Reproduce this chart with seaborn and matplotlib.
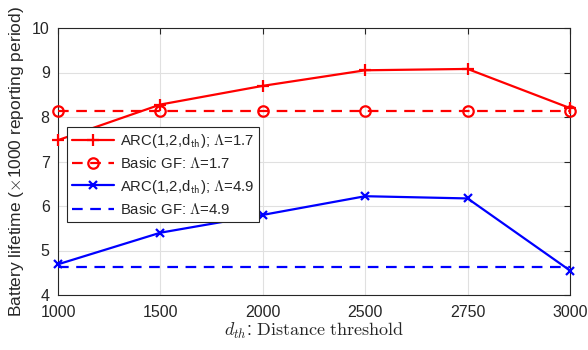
import matplotlib
matplotlib.use("Agg")
import matplotlib.pyplot as plt
import seaborn as sns
import pandas as pd
import numpy as np

categories = ["1000", "1500", "2000", "2500", "2750", "3000"]
arc_17 = [7.48, 8.28, 8.70, 9.05, 9.08, 8.20]
gf_17 = [8.13, 8.13, 8.13, 8.13, 8.13, 8.13]
arc_49 = [4.69, 5.40, 5.80, 6.22, 6.17, 4.55]
gf_49 = [4.62, 4.62, 4.62, 4.62, 4.62, 4.62]
labels = [r"ARC(1,2,d$_{\mathsf{th}}$); $\Lambda$=1.7",
          r"Basic GF: $\Lambda$=1.7",
          r"ARC(1,2,d$_{\mathsf{th}}$); $\Lambda$=4.9",
          r"Basic GF: $\Lambda$=4.9"]

sns.set_theme(style="whitegrid")
plt.rcParams["font.family"] = ["Liberation Sans", "DejaVu Sans"]
plt.rcParams["mathtext.fontset"] = "cm"

fig = plt.figure(figsize=(5.88, 3.5), dpi=100)
ax = fig.add_axes([58/588, 1-295/350, 512/588, 267/350])

pos = np.arange(len(categories))
series = [arc_17, gf_17, arc_49, gf_49]
colors = [(1, 0, 0), (1, 0, 0), (0, 0, 1), (0, 0, 1)]
styles = [
    dict(marker="+", linestyle="-", markersize=9),
    dict(marker="o", linestyle=(0, (4.8, 3.4)), markersize=7.5, markerfacecolor="none"),
    dict(marker="x", linestyle="-", markersize=6),
    dict(marker="None", linestyle=(0, (4.8, 3.4))),
]
for vals, lab, col in zip(series, labels, colors):
    df = pd.DataFrame({"x": pos, "y": vals})
    sns.lineplot(data=df, x="x", y="y", ax=ax, label=lab, color=col, linewidth=1.6)

for line, st, col in zip(ax.lines, styles, colors):
    line.set_marker(st["marker"])
    line.set_linestyle(st["linestyle"])
    if "markersize" in st:
        line.set_markersize(st["markersize"])
    line.set_markeredgewidth(1.6)
    line.set_markeredgecolor(col)
    line.set_markerfacecolor(st.get("markerfacecolor", col))
    line.set_clip_on(False)
    line.set_zorder(3)

ax.set_xlim(0, len(categories) - 1)
ax.set_ylim(4, 10)
ax.set_xticks(pos)
ax.set_xticklabels(categories)
ax.set_yticks(range(4, 11))
ax.tick_params(axis="both", labelsize=11.5, colors="#262626", direction="in",
               top=True, right=True, length=4, width=0.8)
ax.tick_params(axis="x", pad=7)
ax.tick_params(axis="y", pad=6)
ax.grid(True, color="#e0e0e0", linewidth=0.8)
for s in ax.spines.values():
    s.set_visible(True)
    s.set_color("#262626")
    s.set_linewidth(0.8)
ax.set_xlabel(r"$d_{th}$: $\mathrm{Distance\ threshold}$", fontsize=13, color="#262626", labelpad=1)
ax.set_ylabel(r"Battery lifetime ($\times$1000 reporting period)", fontsize=12.5, color="#262626", labelpad=4)

leg = ax.legend(ax.lines, labels, loc="upper left", bbox_to_anchor=(9/512, 168/267), borderaxespad=0,
                fontsize=10.7, frameon=True, fancybox=False, framealpha=1,
                handlelength=2.8, handletextpad=0.4, labelspacing=0.42, borderpad=0.35)
leg.get_frame().set_edgecolor("#262626")
leg.get_frame().set_linewidth(0.8)
leg.set_zorder(5)

fig.savefig("out.png", dpi=100)
